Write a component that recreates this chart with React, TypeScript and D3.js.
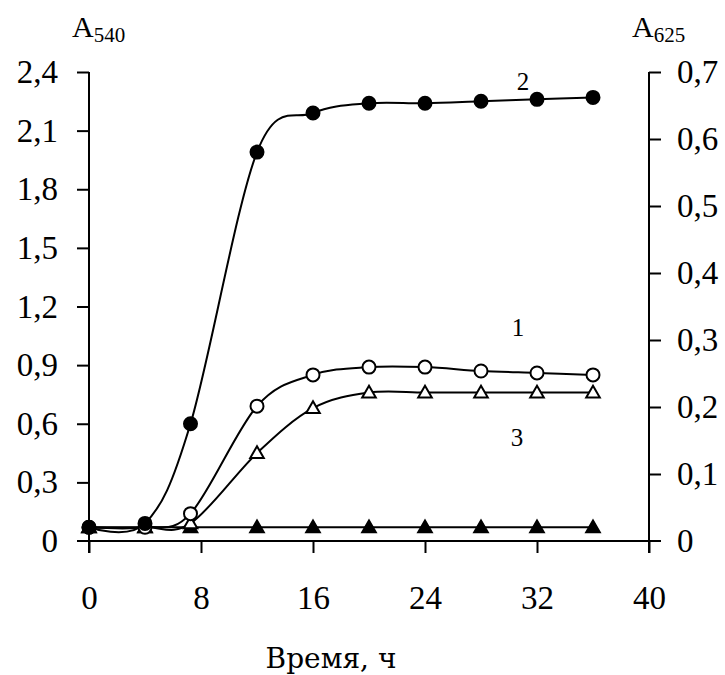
import React, { useEffect, useRef } from 'react';
import * as d3 from 'd3';

const hours = [0, 4, 7.25, 12, 16, 20, 24, 28, 32, 36];
const curve1 = [0.07, 0.07, 0.14, 0.69, 0.85, 0.89, 0.89, 0.87, 0.86, 0.85];
const curve2 = [0.07, 0.09, 0.6, 1.99, 2.19, 2.24, 2.24, 2.25, 2.26, 2.27];
const curve3 = [0.07, 0.07, 0.09, 0.45, 0.68, 0.76, 0.76, 0.76, 0.76, 0.76];
const control = [0.07, 0.07, 0.07, 0.07, 0.07, 0.07, 0.07, 0.07, 0.07, 0.07];

const xTicks = [0, 8, 16, 24, 32, 40];
const leftTicks = [0, 0.3, 0.6, 0.9, 1.2, 1.5, 1.8, 2.1, 2.4];
const rightTicks = [0, 0.1, 0.2, 0.3, 0.4, 0.5, 0.6, 0.7];

const W = 725, H = 675;
const serif = '"Liberation Serif", "Times New Roman", serif';

export default function App() {
    const ref = useRef<SVGSVGElement>(null);

    useEffect(() => {
        const svg = d3.select(ref.current);
        svg.selectAll('*').remove();

        const x = d3.scaleLinear().domain([0, 40]).range([89, 649]);
        const yL = d3.scaleLinear().domain([0, 2.4]).range([541, 72]);
        const yR = d3.scaleLinear().domain([0, 0.7]).range([541, 72]);
        const comma = (v: number) => (v === 0 ? '0' : d3.format('.1f')(v).replace('.', ','));

        // axes
        const left = svg.append('g').attr('transform', `translate(${x(0)},0)`)
            .call(d3.axisLeft(yL).tickValues(leftTicks).tickSize(12).tickSizeOuter(0).tickPadding(19).tickFormat(comma as any));
        const right = svg.append('g').attr('transform', `translate(${x(40)},0)`)
            .call(d3.axisRight(yR).tickValues(rightTicks).tickSize(12).tickSizeOuter(0).tickPadding(16).tickFormat(comma as any));
        const bottom = svg.append('g').attr('transform', `translate(0,${yL(0)})`)
            .call(d3.axisBottom(x).tickValues(xTicks).tickSize(12).tickSizeOuter(0).tickPadding(33).tickFormat(d3.format('d') as any));

        [left, right, bottom].forEach(g => {
            g.select('.domain').remove();
            g.selectAll('line').attr('stroke', '#000').attr('stroke-width', 2);
            g.selectAll('text').attr('font-family', serif).attr('font-size', 33).attr('fill', '#000');
        });
        left.selectAll('.tick').filter((d: any) => d === 0).select('line').remove();
        right.selectAll('.tick').filter((d: any) => d === 0).select('line').remove();

        svg.append('line').attr('x1', x(0)).attr('x2', x(0)).attr('y1', yL(2.4)).attr('y2', yL(0) + 12)
            .attr('stroke', '#000').attr('stroke-width', 2);
        svg.append('line').attr('x1', x(40)).attr('x2', x(40)).attr('y1', yL(2.4)).attr('y2', yL(0) + 12)
            .attr('stroke', '#000').attr('stroke-width', 2);
        svg.append('line').attr('x1', x(0) - 12).attr('x2', x(40) + 12).attr('y1', yL(0)).attr('y2', yL(0))
            .attr('stroke', '#000').attr('stroke-width', 2);

        // lines
        const line = d3.line<number>()
            .x((d, i) => x(hours[i]))
            .y(d => yL(d))
            .curve(d3.curveCatmullRom.alpha(0));

        const series = [
            { data: control, marker: 'tri', fill: '#000' },
            { data: curve3, marker: 'tri', fill: '#fff' },
            { data: curve1, marker: 'circle', fill: '#fff' },
            { data: curve2, marker: 'circle', fill: '#000' },
        ];

        series.forEach(s => {
            svg.append('path').datum(s.data).attr('d', line).attr('fill', 'none')
                .attr('stroke', '#000').attr('stroke-width', 2);
        });

        const tri = d3.symbol().type(d3.symbolTriangle).size(80);
        series.forEach(s => {
            const g = svg.append('g');
            if (s.marker === 'circle') {
                g.selectAll('circle').data(s.data).enter().append('circle')
                    .attr('cx', (d, i) => x(hours[i])).attr('cy', d => yL(d)).attr('r', 6.5)
                    .attr('fill', s.fill).attr('stroke', '#000').attr('stroke-width', 2);
            } else {
                g.selectAll('path').data(s.data).enter().append('path')
                    .attr('d', tri as any)
                    .attr('transform', (d, i) => `translate(${x(hours[i])},${yL(d) + 1})`)
                    .attr('fill', s.fill).attr('stroke', '#000').attr('stroke-width', 2);
            }
        });

        // curve numbers
        const labels = [['2', 523, 90], ['1', 518, 336], ['3', 517, 446]];
        labels.forEach(([t, lx, ly]) => {
            svg.append('text').attr('x', lx).attr('y', ly).attr('text-anchor', 'middle')
                .attr('font-family', serif).attr('font-size', 25).text(t as string);
        });

        // axis titles
        const t1 = svg.append('text').attr('x', 72).attr('y', 37).attr('font-family', serif).attr('font-size', 30);
        t1.append('tspan').text('A');
        t1.append('tspan').attr('font-size', 21).attr('dy', 5).text('540');
        const t2 = svg.append('text').attr('x', 632).attr('y', 37).attr('font-family', serif).attr('font-size', 30);
        t2.append('tspan').text('A');
        t2.append('tspan').attr('font-size', 21).attr('dy', 5).text('625');

        svg.append('text').attr('x', 331).attr('y', 668).attr('text-anchor', 'middle')
            .attr('font-family', '"DejaVu Serif", serif').attr('font-size', 28).text('Время, ч');
    }, []);

    return (
        <svg ref={ref} width={W} height={H} xmlns="http://www.w3.org/2000/svg"
            style={{ position: 'absolute', left: 0, top: 0, background: '#fff' }} />
    );
}
